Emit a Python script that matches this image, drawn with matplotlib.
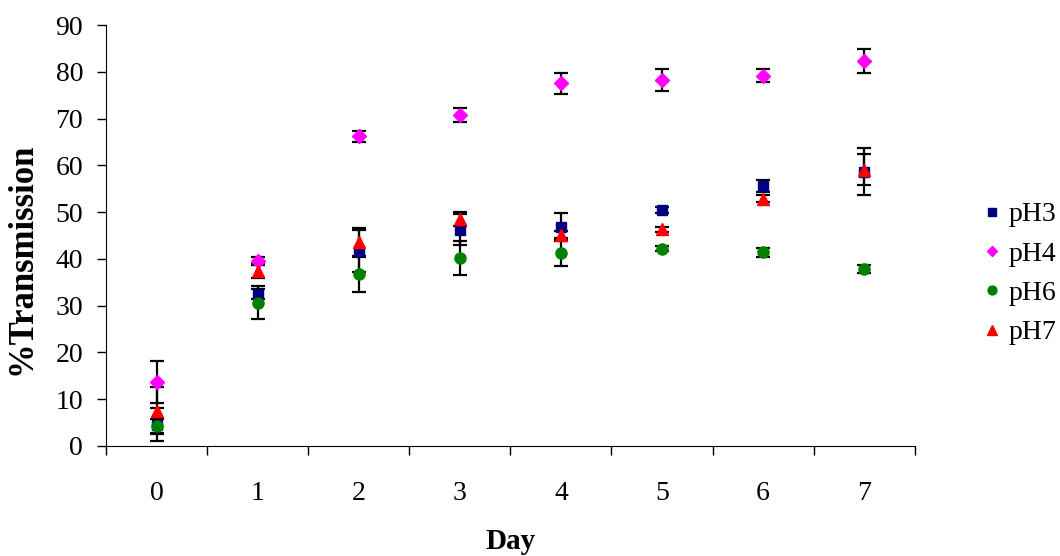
import numpy as np
import matplotlib
matplotlib.use("Agg")
import matplotlib.pyplot as plt

plt.rcParams['font.family'] = ['Liberation Serif', 'DejaVu Serif']

days = [0, 1, 2, 3, 4, 5, 6, 7]

# mean %Transmission and error per pH
ph3 = [4.5, 32.5, 41.7, 46.2, 46.9, 50.4, 55.6, 58.6]
ph3_err = [3.5, 1.0, 4.5, 3.3, 3.0, 0.6, 1.3, 5.0]
ph4 = [13.7, 39.5, 66.2, 70.8, 77.5, 78.3, 79.2, 82.3]
ph4_err = [4.5, 0.8, 1.2, 1.5, 2.2, 2.4, 1.3, 2.6]
ph6 = [4.2, 30.6, 36.7, 40.2, 41.3, 42.2, 41.4, 37.8]
ph6_err = [1.5, 3.5, 3.7, 3.7, 2.9, 0.5, 1.0, 0.8]
ph7 = [7.5, 37.3, 43.6, 48.5, 45.2, 46.3, 52.9, 59.1]
ph7_err = [5.0, 1.5, 3.0, 1.5, 0.8, 0.5, 0.7, 3.3]

series = [
    ('pH3', ph3, ph3_err, 's', '#000080', 7.5),
    ('pH4', ph4, ph4_err, 'D', '#FF00FF', 7),
    ('pH6', ph6, ph6_err, 'o', '#008000', 8),
    ('pH7', ph7, ph7_err, '^', '#FF0000', 9),
]

fig = plt.figure(figsize=(10.6, 5.56), dpi=100)
ax = fig.add_axes([0.1, 0.198, 0.763, 0.757])

for name, vals, err, mk, col, ms in series:
    ax.errorbar(days, vals, yerr=err, fmt='none', ecolor='black',
                elinewidth=1.6, capsize=5, capthick=1.6, zorder=2)
    ax.plot(days, vals, linestyle='none', marker=mk, color=col,
            markersize=ms, label=name, zorder=3)

ax.set_xlim(-0.5, 7.5)
ax.set_ylim(0, 90)
ax.set_yticks(np.arange(0, 91, 10))
ax.set_xticks(days)
ax.set_xticks(np.arange(-0.5, 7.6, 1), minor=True)
ax.tick_params(axis='x', which='major', length=0, labelsize=20, pad=25)
ax.tick_params(axis='x', which='minor', length=6.5, width=1, direction='out')
ax.tick_params(axis='y', length=6.5, width=1, labelsize=20, pad=10)

ax.spines['top'].set_visible(False)
ax.spines['right'].set_visible(False)

ax.set_xlabel('Day', fontsize=21, fontweight='bold')
ax.set_ylabel('%Transmission', fontsize=25, fontweight='bold')
ax.xaxis.set_label_coords(0.5, -0.196)
ax.yaxis.set_label_coords(-0.083, 0.444)

ax.legend(loc='center left', bbox_to_anchor=(1.085, 0.409), frameon=False,
          fontsize=20, handletextpad=0.3, labelspacing=0.5, handlelength=0.6,
          borderaxespad=0, borderpad=0, markerscale=0.8)

fig.savefig('out.png', dpi=100)
